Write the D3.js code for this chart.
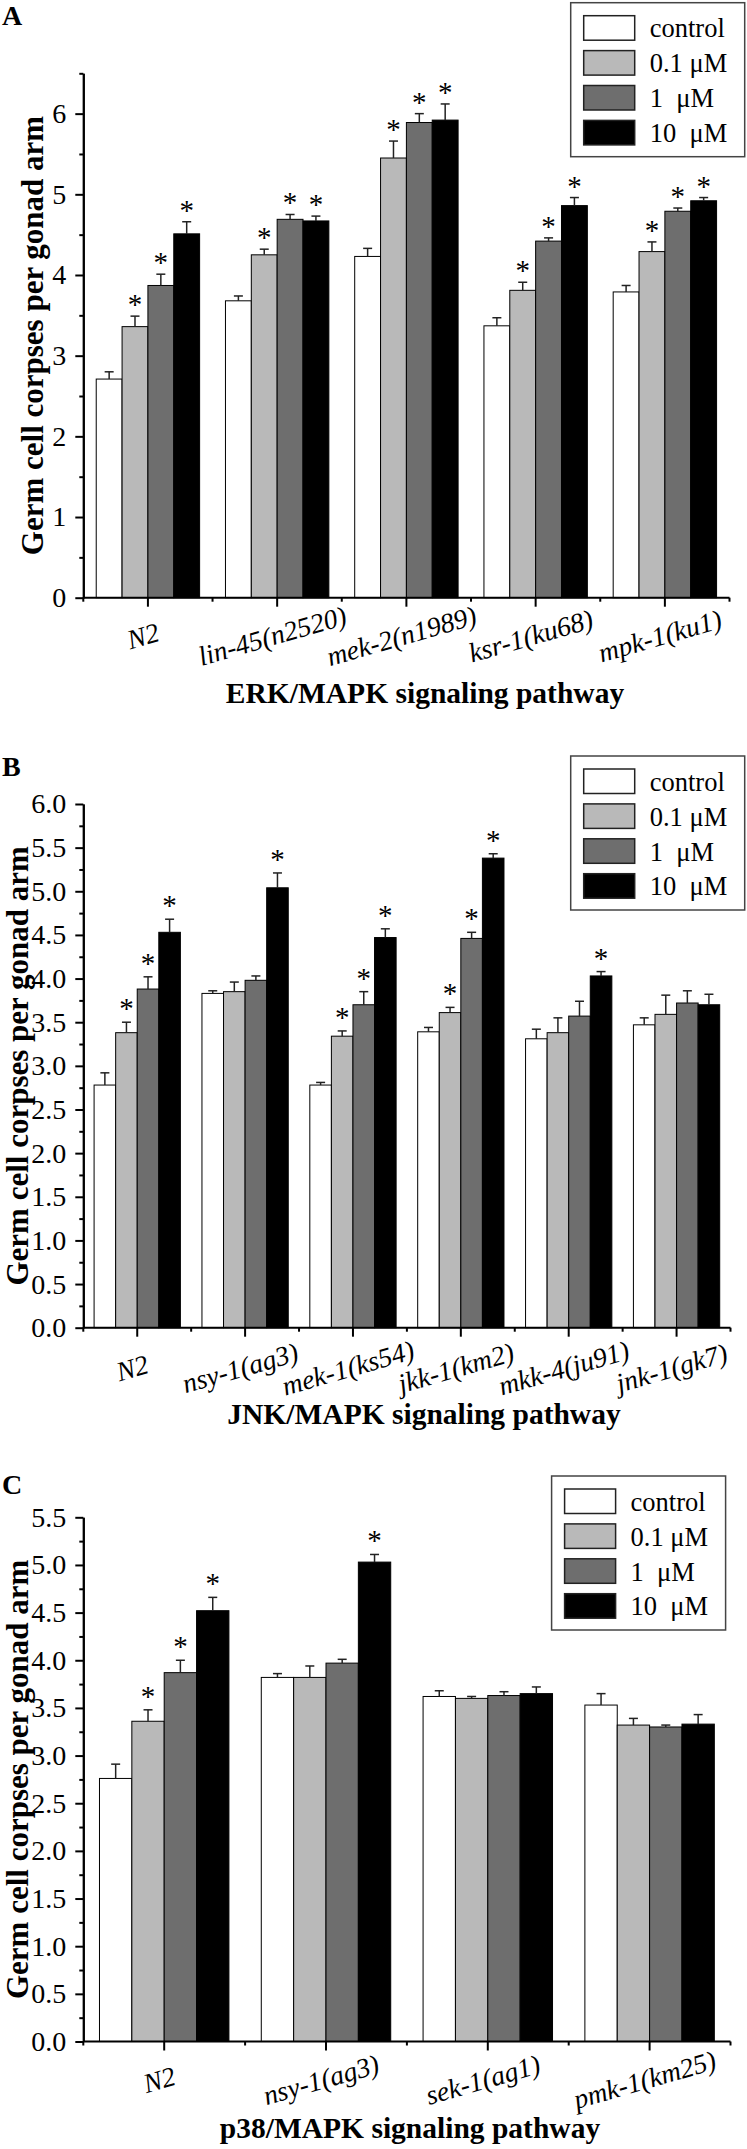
<!DOCTYPE html>
<html>
<head>
<meta charset="utf-8">
<script src="https://cdn.jsdelivr.net/npm/d3@7"></script>
<style>
  html, body { margin: 0; padding: 0; background: #fff; }
  svg { display: block; }
  text { font-family: "Liberation Serif", "Times New Roman", serif; fill: #000; }
</style>
</head>
<body>
<div id="chart"></div>
<script>
// ---------------- DATA ----------------
const legendLabels = ["control", "0.1 \u03bcM", "1  \u03bcM", "10  \u03bcM"];

// Panel A: ERK/MAPK
const categoriesA = ["N2", "lin-45(n2520)", "mek-2(n1989)", "ksr-1(ku68)", "mpk-1(ku1)"];
const controlA    = [2.71, 3.68, 4.23, 3.37, 3.79];
const dose01A     = [3.36, 4.25, 5.45, 3.81, 4.29];
const dose1A      = [3.87, 4.69, 5.89, 4.42, 4.79];
const dose10A     = [4.51, 4.67, 5.92, 4.86, 4.92];
const controlErrA = [0.09, 0.06, 0.10, 0.10, 0.08];
const dose01ErrA  = [0.13, 0.07, 0.21, 0.10, 0.12];
const dose1ErrA   = [0.14, 0.06, 0.11, 0.04, 0.04];
const dose10ErrA  = [0.15, 0.06, 0.20, 0.10, 0.04];
const sig01A = [1, 1, 1, 1, 1];
const sig1A  = [1, 1, 1, 1, 1];
const sig10A = [1, 1, 1, 1, 1];
const titleA = "ERK/MAPK signaling pathway";

// Panel B: JNK/MAPK
const categoriesB = ["N2", "nsy-1(ag3)", "mek-1(ks54)", "jkk-1(km2)", "mkk-4(ju91)", "jnk-1(gk7)"];
const controlB    = [2.78, 3.83, 2.78, 3.39, 3.31, 3.47];
const dose01B     = [3.38, 3.85, 3.34, 3.61, 3.38, 3.59];
const dose1B      = [3.88, 3.98, 3.70, 4.46, 3.57, 3.72];
const dose10B     = [4.53, 5.04, 4.47, 5.38, 4.03, 3.70];
const controlErrB = [0.14, 0.03, 0.03, 0.05, 0.11, 0.08];
const dose01ErrB  = [0.12, 0.11, 0.06, 0.06, 0.17, 0.22];
const dose1ErrB   = [0.14, 0.05, 0.15, 0.07, 0.17, 0.14];
const dose10ErrB  = [0.15, 0.17, 0.10, 0.05, 0.05, 0.12];
const sig01B = [1, 0, 1, 1, 0, 0];
const sig1B  = [1, 0, 1, 1, 0, 0];
const sig10B = [1, 1, 1, 1, 1, 0];
const titleB = "JNK/MAPK signaling pathway";

// Panel C: p38/MAPK
const categoriesC = ["N2", "nsy-1(ag3)", "sek-1(ag1)", "pmk-1(km25)"];
const controlC    = [2.76, 3.82, 3.62, 3.53];
const dose01C     = [3.36, 3.82, 3.60, 3.32];
const dose1C      = [3.87, 3.97, 3.63, 3.30];
const dose10C     = [4.52, 5.03, 3.65, 3.33];
const controlErrC = [0.15, 0.04, 0.06, 0.12];
const dose01ErrC  = [0.12, 0.12, 0.02, 0.07];
const dose1ErrC   = [0.13, 0.04, 0.04, 0.02];
const dose10ErrC  = [0.14, 0.08, 0.07, 0.10];
const sig01C = [1, 0, 0, 0];
const sig1C  = [1, 0, 0, 0];
const sig10C = [1, 1, 0, 0];
const titleC = "p38/MAPK signaling pathway";

const yTitle = "Germ cell corpses per gonad arm";
const panelLetters = ["A", "B", "C"];

// ---------------- STYLE ----------------
const fills = ["#ffffff", "#b9b9b9", "#6e6e6e", "#000000"];

const svg = d3.select("#chart").append("svg")
  .attr("width", 747).attr("height", 2149)
  .style("background", "#fff");

function drawPanel(cfg) {
  const g = svg.append("g");
  const n = cfg.cats.length;
  const x = d3.scaleBand().domain(d3.range(n)).range([cfg.x0, cfg.x1]).paddingInner(0).paddingOuter(0);
  const inner = d3.scaleBand().domain(d3.range(4))
    .range([x.bandwidth() * 0.1, x.bandwidth() * 0.9]).padding(0);
  const y = d3.scaleLinear().domain([0, cfg.yMax]).range([cfg.yZero, cfg.yTop]);

  const rows = [];
  for (let s = 0; s < 4; s++) {
    for (let i = 0; i < n; i++) {
      rows.push({ s, i, v: cfg.series[s][i], e: cfg.errs[s][i], sig: s > 0 ? cfg.sigs[s - 1][i] : 0 });
    }
  }

  // bars
  g.selectAll("rect.bar").data(rows).join("rect")
    .attr("class", "bar")
    .attr("x", d => x(d.i) + inner(d.s))
    .attr("width", inner.bandwidth())
    .attr("y", d => y(d.v))
    .attr("height", d => y(0) - y(d.v))
    .attr("fill", d => fills[d.s])
    .attr("stroke", "#000").attr("stroke-width", 1);

  // error bars (upper half)
  const cx = d => x(d.i) + inner(d.s) + inner.bandwidth() / 2;
  g.selectAll("line.err").data(rows).join("line")
    .attr("x1", cx).attr("x2", cx)
    .attr("y1", d => y(d.v)).attr("y2", d => y(d.v + d.e))
    .attr("stroke", "#222").attr("stroke-width", 1.5);
  g.selectAll("line.cap").data(rows).join("line")
    .attr("x1", d => cx(d) - 4.5).attr("x2", d => cx(d) + 4.5)
    .attr("y1", d => y(d.v + d.e)).attr("y2", d => y(d.v + d.e))
    .attr("stroke", "#222").attr("stroke-width", 1.5);

  // asterisks
  g.selectAll("text.star").data(rows.filter(d => d.sig)).join("text")
    .attr("x", cx)
    .attr("y", d => y(d.v + d.e) - cfg.starGap)
    .attr("text-anchor", "middle")
    .style("font-size", "29px")
    .text("*");

  // y axis
  const majors = d3.range(0, cfg.yMax + 1e-9, cfg.major);
  const minors = d3.range(0, cfg.yMax + 1e-9, cfg.minor).filter(v => Math.abs(v / cfg.major - Math.round(v / cfg.major)) > 1e-6);
  const yAxisMinor = g.append("g").attr("transform", `translate(${cfg.x0},0)`)
    .call(d3.axisLeft(y).tickValues(minors).tickSize(4).tickSizeOuter(0).tickFormat(""));
  const yAxis = g.append("g").attr("transform", `translate(${cfg.x0},0)`)
    .call(d3.axisLeft(y).tickValues(majors).tickSize(8).tickSizeOuter(0).tickPadding(9).tickFormat(cfg.fmt));
  [yAxis, yAxisMinor].forEach(a => {
    a.selectAll("path").attr("stroke", "#000").attr("stroke-width", 2);
    a.selectAll("line").attr("stroke", "#000").attr("stroke-width", 2);
  });
  yAxis.selectAll("text").style("font-size", cfg.tickFont + "px")
    .style("font-family", '"Liberation Serif", serif').attr("fill", "#000");

  // x axis line
  g.append("line").attr("x1", cfg.x0).attr("x2", cfg.x1)
    .attr("y1", y(0)).attr("y2", y(0))
    .attr("stroke", "#000").attr("stroke-width", 2);
  // center ticks
  g.selectAll("line.xt").data(d3.range(n)).join("line")
    .attr("x1", i => x(i) + x.bandwidth() / 2).attr("x2", i => x(i) + x.bandwidth() / 2)
    .attr("y1", y(0)).attr("y2", y(0) + 9)
    .attr("stroke", "#000").attr("stroke-width", 2);
  // boundary ticks
  g.selectAll("line.xb").data(d3.range(n + 1)).join("line")
    .attr("x1", i => cfg.x0 + i * x.step()).attr("x2", i => cfg.x0 + i * x.step())
    .attr("y1", y(0)).attr("y2", y(0) + 4)
    .attr("stroke", "#000").attr("stroke-width", 2);
  // category labels
  g.selectAll("text.cat").data(cfg.cats).join("text")
    .attr("transform", (d, i) => `translate(${x(i) + x.bandwidth() / 2 - 5},${y(0) + cfg.labelOff}) rotate(-16)`)
    .attr("text-anchor", "middle")
    .attr("dy", "0.35em")
    .style("font-size", "27.5px").style("font-style", "italic")
    .text(d => d);

  // x title
  g.append("text").attr("x", cfg.titleX).attr("y", cfg.titleY)
    .attr("text-anchor", "middle")
    .style("font-size", "29.5px").style("font-weight", "bold")
    .text(cfg.title);

  // y title
  g.append("text")
    .attr("transform", `translate(${cfg.yTitleX},${(y(0) + y(cfg.yMax)) / 2}) rotate(-90)`)
    .attr("text-anchor", "middle")
    .style("font-size", "31px").style("font-weight", "bold")
    .text(yTitle);

  // panel letter
  g.append("text").attr("x", 2).attr("y", cfg.letterY)
    .style("font-size", "28px").style("font-weight", "bold")
    .text(cfg.letter);

  // legend
  const lg = g.append("g").attr("transform", `translate(${cfg.legX},${cfg.legY})`);
  lg.append("rect").attr("x", 0).attr("y", 0).attr("width", 174).attr("height", 154)
    .attr("fill", "#fff").attr("stroke", "#444").attr("stroke-width", 1.5);
  const items = lg.selectAll("g.item").data(legendLabels).join("g")
    .attr("transform", (d, k) => `translate(13,${13 + k * 34.9})`);
  items.append("rect").attr("width", 51).attr("height", 24.5)
    .attr("fill", (d, k) => fills[k]).attr("stroke", "#222").attr("stroke-width", 1.5);
  items.append("text").attr("x", 66).attr("y", 12.5).attr("dy", "0.35em")
    .style("font-size", "26.5px").style("white-space", "pre")
    .attr("xml:space", "preserve")
    .text(d => d);
}

drawPanel({
  cats: categoriesA,
  series: [controlA, dose01A, dose1A, dose10A],
  errs: [controlErrA, dose01ErrA, dose1ErrA, dose10ErrA],
  sigs: [sig01A, sig1A, sig10A],
  x0: 83.3, x1: 729.5, yZero: 597.7, yTop: 73.3, yMax: 6.5,
  major: 1, minor: 0.5, fmt: d3.format("d"), tickFont: 28,
  starGap: 2, labelOff: 38,
  title: titleA, titleX: 425, titleY: 703,
  yTitleX: 43, letter: panelLetters[0], letterY: 25,
  legX: 570.7, legY: 2.7
});

drawPanel({
  cats: categoriesB,
  series: [controlB, dose01B, dose1B, dose10B],
  errs: [controlErrB, dose01ErrB, dose1ErrB, dose10ErrB],
  sigs: [sig01B, sig1B, sig10B],
  x0: 83.3, x1: 730.5, yZero: 1327.7, yTop: 804, yMax: 6.0,
  major: 0.5, minor: 0.25, fmt: d3.format(".1f"), tickFont: 28,
  starGap: 4, labelOff: 40,
  title: titleB, titleX: 424, titleY: 1424,
  yTitleX: 28, letter: panelLetters[1], letterY: 776,
  legX: 570.7, legY: 756
});

drawPanel({
  cats: categoriesC,
  series: [controlC, dose01C, dose1C, dose10C],
  errs: [controlErrC, dose01ErrC, dose1ErrC, dose10ErrC],
  sigs: [sig01C, sig1C, sig10C],
  x0: 83.3, x1: 730.5, yZero: 2041.5, yTop: 1517.3, yMax: 5.5,
  major: 0.5, minor: 0.25, fmt: d3.format(".1f"), tickFont: 28,
  starGap: 4, labelOff: 38,
  title: titleC, titleX: 410, titleY: 2138,
  yTitleX: 28, letter: panelLetters[2], letterY: 1494,
  legX: 551.6, legY: 1476
});
</script>
</body>
</html>
